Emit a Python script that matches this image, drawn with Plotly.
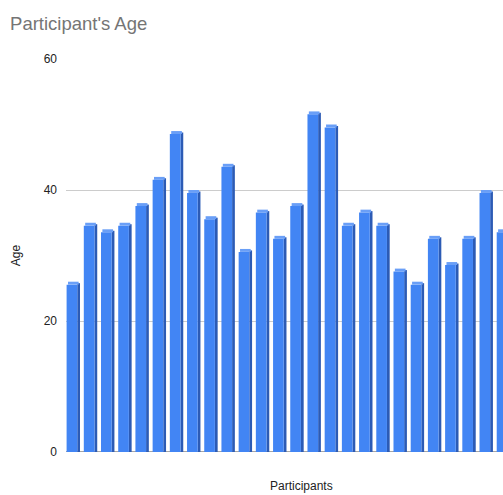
import plotly.graph_objects as go

# Ages of each participant, in order
participants = [f"P{i+1}" for i in range(26)]
ages = [26, 35, 34, 35, 38, 42, 49, 40, 36, 44, 31, 37, 33,
        38, 52, 50, 35, 37, 35, 28, 26, 33, 29, 33, 40, 34]
y_ticks = [0, 20, 40, 60]

x_idx = list(range(len(ages)))
face_w = 0.62
side_w = 0.16
bevel = 0.45

fig = go.Figure()

# darker right-hand side of each block
fig.add_trace(go.Bar(
    x=x_idx, y=[a - bevel / 2 for a in ages], width=side_w,
    offset=-0.385 + face_w, marker=dict(color="#2c5bb5", line=dict(width=0)),
    hoverinfo="skip", showlegend=False))
# front face
fig.add_trace(go.Bar(
    x=x_idx, y=[a - bevel for a in ages], width=face_w, offset=-0.385,
    marker=dict(color="#4285f4", line=dict(width=0)),
    customdata=list(zip(participants, ages)),
    hovertemplate="%{customdata[0]}: %{customdata[1]}<extra></extra>",
    showlegend=False))
# lighter top bevel, ending at the participant's age
fig.add_trace(go.Bar(
    x=x_idx, y=[bevel] * len(ages), base=[a - bevel for a in ages],
    width=face_w, offset=-0.385 + side_w / 2,
    marker=dict(color="#6a9ff7", line=dict(width=0)),
    hoverinfo="skip", showlegend=False))

fig.update_layout(
    width=503, height=495,
    margin=dict(l=66, r=0, t=59, b=43),
    paper_bgcolor="white", plot_bgcolor="white",
    barmode="overlay",
    font=dict(family="Liberation Sans, Arial, sans-serif", size=12, color="#222"),
    title=dict(text="Participant's Age", x=0.02, xanchor="left",
               y=0.953, yanchor="middle",
               font=dict(size=18.5, color="#757575")),
    xaxis=dict(range=[-0.42, 24.98], showticklabels=False, showgrid=False,
               zeroline=False, showline=False, ticks=""),
    yaxis=dict(range=[0, 60], tickvals=y_ticks, showgrid=True,
               gridcolor="#cccccc", gridwidth=1, zeroline=False,
               showline=False, ticks="", ticklabelstandoff=8,
               tickfont=dict(size=12, color="#222")),
    shapes=[dict(type="line", xref="paper", yref="y", x0=0, x1=1, y0=0, y1=0,
                 line=dict(color="#888888", width=1.5), layer="below")],
    annotations=[
        dict(text="Age", xref="paper", yref="paper", x=-0.115, y=0.5,
             xanchor="center", yanchor="middle", textangle=-90, showarrow=False,
             font=dict(size=12, color="#222")),
        dict(text="Participants", xref="paper", yref="paper", x=0.539, y=-0.087,
             xanchor="center", yanchor="middle", showarrow=False,
             font=dict(size=12, color="#222")),
    ],
)

fig.write_html("out.html")
